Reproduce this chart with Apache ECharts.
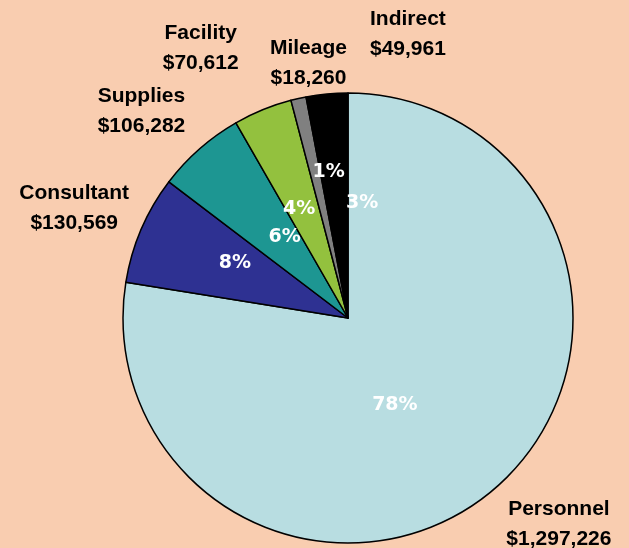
<!DOCTYPE html>
<html>
<head>
<meta charset="utf-8">
<script src="https://cdn.jsdelivr.net/npm/echarts@6/dist/echarts.min.js"></script>
<style>
html,body{margin:0;padding:0;background:#F9CDB0;}
#chart{width:629px;height:548px;}
</style>
</head>
<body>
<div id="chart"></div>
<script>
// Data
const categories = ['Personnel', 'Consultant', 'Supplies', 'Facility', 'Mileage', 'Indirect'];
const values = [1297226, 130569, 106282, 70612, 18260, 49961];

// Styles (separate from data)
const colors = ['#B8DDE1', '#2E3192', '#1D9692', '#93C13E', '#808080', '#000000'];
const innerOffsets = [[-28, -1], [-7, -9], [13, 6], [-5, -2], [6, -33], [25, 0]];
const outerOffsets = [[65, 35], [-67, -21], [-58, -38], [-62, -62], [10, -35], [81, -60]];

const chart = echarts.init(document.getElementById('chart'), null, {renderer: 'canvas'});

const pieData = categories.map((name, i) => ({
  name: name,
  value: values[i],
  itemStyle: { color: colors[i] }
}));

const labelData = categories.map((name, i) => ({ name: name, value: values[i] }));

const option = {
  backgroundColor: '#F9CDB0',
  animation: false,
  series: [
    {
      type: 'pie',
      center: [348, 318],
      radius: [0, 225],
      startAngle: 90,
      clockwise: true,
      avoidLabelOverlap: false,
      data: pieData,
      itemStyle: { borderColor: '#000', borderWidth: 1.5 },
      label: {
        show: true,
        position: 'inside',
        color: '#fff',
        fontFamily: 'DejaVu Sans',
        fontWeight: 'bold',
        fontSize: 19,
        formatter: p => Math.round(p.percent) + '%'
      },
      labelLayout: p => ({ dx: innerOffsets[p.dataIndex][0], dy: innerOffsets[p.dataIndex][1] }),
      emphasis: { disabled: true }
    },
    {
      type: 'pie',
      center: [348, 318],
      radius: [0, 225],
      startAngle: 90,
      clockwise: true,
      silent: true,
      avoidLabelOverlap: false,
      data: labelData,
      itemStyle: { color: 'rgba(0,0,0,0)', borderWidth: 0 },
      label: {
        show: true,
        position: 'outside',
        color: '#000',
        fontFamily: 'Liberation Sans, Arial, sans-serif',
        fontWeight: 'bold',
        fontSize: 21,
        lineHeight: 30,
        align: 'center',
        distanceToLabelLine: 0,
        formatter: p => p.name + '\n$' + p.value.toLocaleString('en-US')
      },
      labelLine: { show: false, length: 0, length2: 0 },
      labelLayout: p => ({
        dx: outerOffsets[p.dataIndex][0],
        dy: outerOffsets[p.dataIndex][1],
        align: 'center',
        verticalAlign: 'middle'
      }),
      emphasis: { disabled: true }
    }
  ]
};
chart.setOption(option);
</script>
</body>
</html>
